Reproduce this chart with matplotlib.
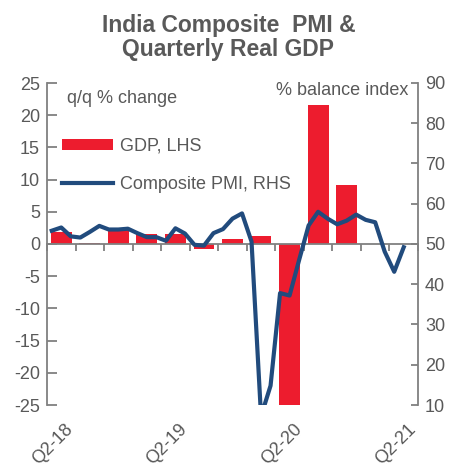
import numpy as np
import matplotlib
matplotlib.use("Agg")
import matplotlib.pyplot as plt
import matplotlib.transforms as mtransforms
from matplotlib.patches import Patch
from matplotlib.lines import Line2D

plt.rcParams.update({
    "font.family": ["Liberation Sans", "DejaVu Sans"],
    "font.size": 13,
    "axes.unicode_minus": False,
    "text.color": "#595959",
    "xtick.color": "#808080",
    "ytick.color": "#808080",
    "xtick.labelcolor": "#595959",
    "ytick.labelcolor": "#595959",
})

# Data
quarters = ["Q2-18", "Q3-18", "Q4-18", "Q1-19", "Q2-19", "Q3-19", "Q4-19",
            "Q1-20", "Q2-20", "Q3-20", "Q4-20", "Q1-21", "Q2-21"]
gdp_qq = [1.9, 0.15, 2.2, 1.6, 1.6, -0.8, 0.8, 1.3, -25.0, 21.6, 9.1,
          np.nan, np.nan]

# Composite PMI, monthly Jun-18 .. Jul-21
pmi = [53.3, 54.1, 51.9, 51.6, 53.0, 54.5, 53.6,
       53.6, 53.8, 52.7, 51.7, 51.7, 50.8, 53.9, 52.6, 49.8, 49.6, 52.7, 53.7,
       56.3, 57.6, 50.6, 7.2, 14.8, 37.8, 37.2, 46.0, 54.6, 58.0, 56.3, 54.9,
       55.8, 57.3, 56.0, 55.4, 48.1, 43.1, 49.2]

label_quarters = ["Q2-18", "Q2-19", "Q2-20", "Q2-21"]

RED = "#ED1C2E"
BLUE = "#214B7D"
GREY = "#808080"
TXT = "#595959"

fig = plt.figure(figsize=(4.57, 4.68), dpi=100)
ax = fig.add_axes([47 / 457, 1 - 405 / 468, 371 / 457, 322 / 468])
ax2 = ax.twinx()

x_q = np.arange(len(quarters))
ax.bar(x_q, gdp_qq, width=0.73, color=RED, zorder=1)

# monthly points: Jul-18 sits on the first quarter centre
x_m = np.arange(len(pmi)) / 3 - 1 / 3
ax2.plot(x_m, pmi, color=BLUE, lw=3.0, solid_joinstyle="round", zorder=3)

ax.set_xlim(-0.5, len(quarters) - 0.5)
ax.set_ylim(-25, 25)
ax2.set_ylim(10, 90)

# spines
for a in (ax, ax2):
    a.spines["top"].set_visible(False)
ax.spines["right"].set_visible(False)
ax2.spines["left"].set_visible(False)
ax2.spines["bottom"].set_visible(False)
ax.spines["left"].set_color(GREY)
ax.spines["left"].set_linewidth(1.3)
ax2.spines["right"].set_color(GREY)
ax2.spines["right"].set_linewidth(1.3)
ax.spines["bottom"].set_position(("data", 0))
ax.spines["bottom"].set_color(GREY)
ax.spines["bottom"].set_linewidth(1.3)

ax.set_yticks(np.arange(-25, 26, 5))
ax.tick_params(axis="y", direction="in", length=7, width=1.3, pad=5)
ax2.set_yticks(np.arange(10, 91, 10))
ax2.tick_params(axis="y", direction="in", length=5, width=1.3, pad=5)

ax.set_xticks(np.arange(-0.5, len(quarters), 1))
ax.set_xticklabels([])
ax.tick_params(axis="x", direction="out", length=5, width=1.3)

# rotated quarter labels under the plot
trans = mtransforms.blended_transform_factory(ax.transData, ax.transAxes)
for q in label_quarters:
    i = quarters.index(q)
    ax.text(i + 0.12, -0.05, q, transform=trans, rotation=45, ha="right",
            va="top", rotation_mode="anchor", color=TXT, fontsize=13)

# annotations
ax.text(0.054, 0.938, "q/q % change", transform=ax.transAxes, ha="left",
        va="baseline", color=TXT, fontsize=13)
ax2.text(0.973, 0.963, "% balance index", transform=ax.transAxes, ha="right",
         va="baseline", color=TXT, fontsize=13)

handles = [Patch(facecolor=RED, edgecolor="none", label="GDP, LHS"),
           Line2D([0], [0], color=BLUE, lw=3.0, label="Composite PMI, RHS")]
ax2.legend(handles=handles, loc="upper left",
           bbox_to_anchor=(15 / 371, (405 - 137.5) / 322), frameon=False,
           borderpad=0, borderaxespad=0, handlelength=2.8, handleheight=0.55,
           handletextpad=0.4, labelspacing=1.2, fontsize=13, labelcolor=TXT)

# title
fig.text(0.5, 1 - 32 / 468, "India Composite  PMI &", ha="center",
         va="baseline", fontsize=16.5, fontweight="bold", color=TXT)
fig.text(0.5, 1 - 56 / 468, "Quarterly Real GDP", ha="center",
         va="baseline", fontsize=16.5, fontweight="bold", color=TXT)

fig.savefig("out.png", dpi=100)
